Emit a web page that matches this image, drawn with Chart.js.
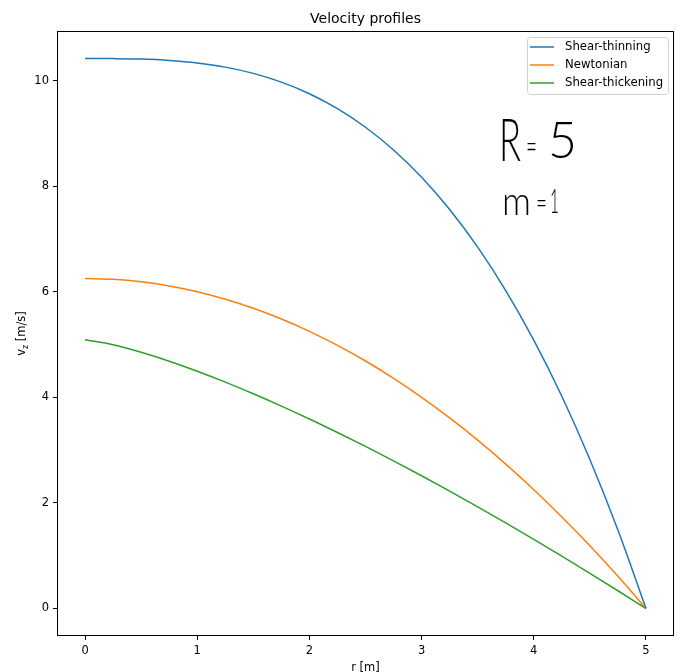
<!DOCTYPE html>
<html><head><meta charset="utf-8">
<script src="https://cdn.jsdelivr.net/npm/chart.js@4/dist/chart.umd.min.js"></script>
<style>html,body{margin:0;padding:0;background:#fff;}#wrap{width:681px;height:672px;position:relative;}</style>
</head><body><div id="wrap"><canvas id="c" width="681" height="672"></canvas></div>
<script>
const rValues = [0,0.25,0.5,0.75,1,1.25,1.5,1.75,2,2.25,2.5,2.75,3,3.25,3.5,3.75,4,4.25,4.5,4.75,5];
const shearThinning = [10.417,10.415,10.406,10.381,10.333,10.254,10.135,9.970,9.750,9.467,9.115,8.684,8.167,7.556,6.844,6.022,5.083,4.019,2.823,1.486,0];
const newtonian = [6.25,6.234,6.188,6.109,6.0,5.859,5.688,5.484,5.25,4.984,4.688,4.359,4.0,3.609,3.188,2.734,2.25,1.734,1.188,0.609,0];
const shearThickening = [5.090,4.996,4.853,4.684,4.494,4.288,4.067,3.834,3.590,3.334,3.070,2.796,2.514,2.224,1.926,1.621,1.310,0.992,0.667,0.336,0];
const seriesNames = ["Shear-thinning","Newtonian","Shear-thickening"];
const xTicks = [0,1,2,3,4,5];
const yTicks = [0,2,4,6,8,10];
const titleText = "Velocity profiles";
const xLabel = "r [m]";
const annotations = ["R = 5","m =1"];

const colors = ["#1f77b4","#ff7f0e","#2ca02c"];
const allSeries = [shearThinning,newtonian,shearThickening];
const FONT = "'DejaVu Sans', sans-serif";
const HAND = "Lato, sans-serif";

const custom = {
  id:'custom',
  afterDraw(chart){
    const ctx = chart.ctx, a = chart.chartArea;
    ctx.save();
    // frame
    ctx.strokeStyle='#000'; ctx.lineWidth=1;
    ctx.strokeRect(Math.round(a.left)+0.5, Math.round(a.top)+0.5, Math.round(a.right-a.left)-1, Math.round(a.bottom-a.top)-1);
    // title
    ctx.fillStyle='#000'; ctx.font='14px '+FONT; ctx.textAlign='center'; ctx.textBaseline='alphabetic';
    ctx.fillText(titleText,(a.left+a.right)/2,23);
    // x label
    ctx.font='11.5px '+FONT;
    ctx.fillText(xLabel,(a.left+a.right)/2,671);
    // y label with subscript
    ctx.save();
    ctx.translate(25,(a.top+a.bottom)/2);
    ctx.rotate(-Math.PI/2);
    ctx.textAlign='left';
    const p1='v', p3=' [m/s]';
    ctx.font='11.5px '+FONT; const w1=ctx.measureText(p1).width;
    ctx.font='8px '+FONT; const w2=ctx.measureText('z').width;
    ctx.font='11.5px '+FONT; const w3=ctx.measureText(p3).width;
    let x0=-(w1+w2+w3)/2;
    ctx.fillText(p1,x0,0);
    ctx.font='8px '+FONT; ctx.fillText('z',x0+w1,3);
    ctx.font='11.5px '+FONT; ctx.fillText(p3,x0+w1+w2,0);
    ctx.restore();
    // legend
    const lx=527, ly=37, lw=141, lh=57;
    ctx.fillStyle='rgba(255,255,255,0.8)';
    ctx.strokeStyle='#d0d0d0'; ctx.lineWidth=1;
    ctx.beginPath();
    if(ctx.roundRect){ctx.roundRect(lx+0.5,ly+0.5,lw,lh,3);}else{ctx.rect(lx+0.5,ly+0.5,lw,lh);}
    ctx.fill(); ctx.stroke();
    ctx.font='11.7px '+FONT; ctx.textAlign='left'; ctx.textBaseline='middle';
    seriesNames.forEach((n,i)=>{
      const y=ly+10+i*18;
      ctx.strokeStyle=colors[i]; ctx.lineWidth=1.5;
      ctx.beginPath(); ctx.moveTo(530,y); ctx.lineTo(554,y); ctx.stroke();
      ctx.fillStyle='#000'; ctx.fillText(n,565,y);
    });
    // handwritten annotations (each glyph placed separately)
    ctx.fillStyle='#000'; ctx.textBaseline='alphabetic'; ctx.textAlign='left';
    const a0 = annotations[0], a1 = annotations[1];
    ctx.font='300 60px '+HAND; ctx.fillText(a0[0],499,161,22);
    ctx.font='300 40px '+HAND; ctx.fillText(a0[2],526,160,11);
    ctx.font='300 52px '+HAND; ctx.fillText(a0[4],548,158,29);
    ctx.font='300 40px '+HAND; ctx.fillText(a1[0],502,215,29);
    ctx.font='300 30px '+HAND; ctx.fillText(a1[2],536,213,11);
    ctx.font='300 34px '+HAND; ctx.fillText(a1[3],550,213,9);
    ctx.restore();
  }
};

const datasets = allSeries.map((s,i)=>({
  label: seriesNames[i],
  data: rValues.map((r,j)=>({x:r,y:s[j]})),
  borderColor: colors[i], backgroundColor: colors[i],
  borderWidth: 1.5, pointRadius: 0, showLine: true, cubicInterpolationMode:'monotone', fill:false
}));

new Chart(document.getElementById('c'),{
  type:'scatter',
  data:{datasets},
  options:{
    responsive:false, animation:false, devicePixelRatio:1,
    layout:{padding:{top:31,right:7,left:0,bottom:0}},
    plugins:{legend:{display:false},title:{display:false},tooltip:{enabled:false}},
    scales:{
      x:{type:'linear',min:-0.25,max:5.25,
        afterBuildTicks:s=>{s.ticks=xTicks.map(v=>({value:v}));},
        afterFit:s=>{s.height=36;},
        grid:{drawOnChartArea:false,drawTicks:true,tickLength:4,color:'#000'},
        border:{display:false},
        ticks:{color:'#000',font:{size:11.5,family:FONT},padding:4,maxRotation:0,callback:v=>String(v)}},
      y:{type:'linear',min:-0.521,max:10.938,
        afterBuildTicks:s=>{s.ticks=yTicks.map(v=>({value:v}));},
        afterFit:s=>{s.width=57;},
        grid:{drawOnChartArea:false,drawTicks:true,tickLength:4,color:'#000'},
        border:{display:false},
        ticks:{color:'#000',font:{size:11.5,family:FONT},padding:4,callback:v=>String(v)}}
    }
  },
  plugins:[custom]
});
</script></body></html>
